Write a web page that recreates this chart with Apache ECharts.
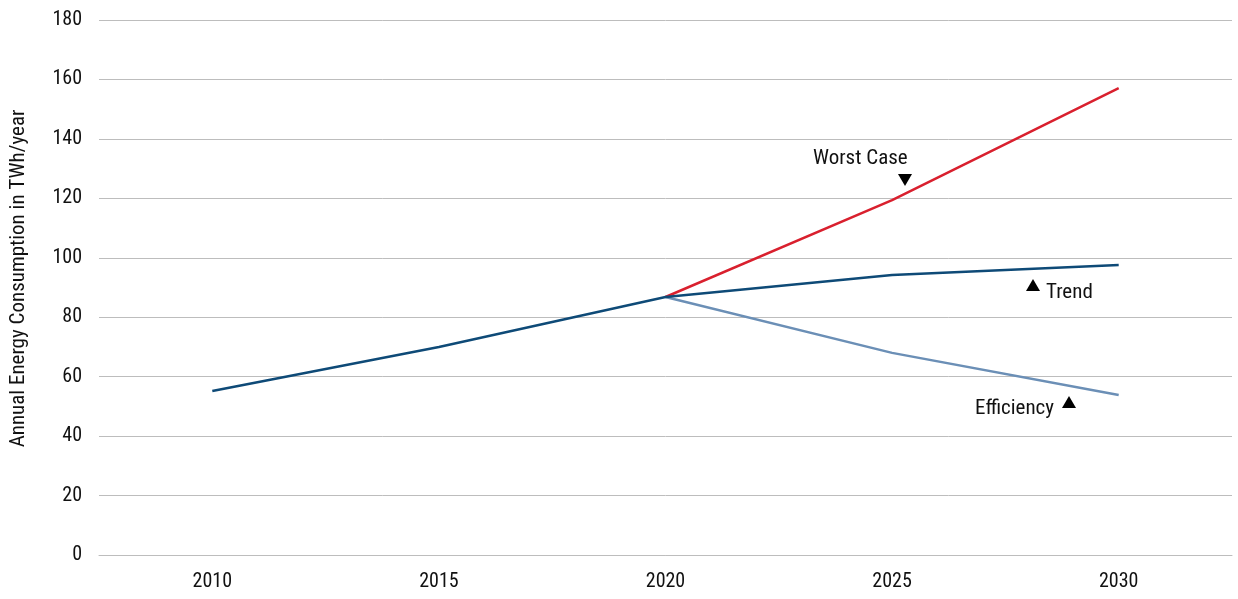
<!DOCTYPE html>
<html>
<head>
<meta charset="utf-8">
<script src="https://cdn.jsdelivr.net/npm/echarts@6/dist/echarts.min.js"></script>
<style>html,body{margin:0;padding:0;background:#fff}#c{width:1238px;height:599px}</style>
</head>
<body>
<div id="c"></div>
<script>
var years = ['2010', '2015', '2020', '2025', '2030'];
var trend = [55.2, 70, 86.8, 94.2, 97.6];
var worstCase = [null, null, 86.8, 119.4, 157.1];
var efficiency = [null, null, 86.8, 68, 53.8];
var yTicks = [0, 20, 40, 60, 80, 100, 120, 140, 160, 180];

var FONT = '"Roboto Condensed", "Liberation Sans Narrow", "DejaVu Sans Condensed", "Roboto", sans-serif';
var chart = echarts.init(document.getElementById('c'));
chart.setOption({
  animation: false,
  grid: { left: 92, right: 6, top: 20, bottom: 44 },
  xAxis: {
    type: 'category',
    data: years,
    boundaryGap: true,
    axisLine: { show: true, lineStyle: { color: '#bdbdbd', width: 1 } },
    axisTick: { show: false },
    axisLabel: { color: '#111', fontFamily: FONT, fontSize: 20, margin: 17 }
  },
  yAxis: {
    type: 'value',
    min: yTicks[0],
    max: yTicks[yTicks.length - 1],
    interval: 20,
    name: 'Annual Energy Consumption in TWh/year',
    nameLocation: 'middle',
    nameGap: 70,
    nameTextStyle: { color: '#111', fontFamily: FONT, fontSize: 21, padding: [0, 0, 0, 18] },
    axisLine: { show: false },
    axisTick: { show: false },
    splitLine: { lineStyle: { color: '#bdbdbd', width: 1 } },
    axisLabel: { color: '#111', fontFamily: FONT, fontSize: 20, margin: 17 }
  },
  series: [
    { name: 'Worst Case', type: 'line', data: worstCase, symbol: 'none', lineStyle: { color: '#d9202e', width: 2.5 } },
    { name: 'Efficiency', type: 'line', data: efficiency, symbol: 'none', lineStyle: { color: '#6b8fb6', width: 2.5 } },
    { name: 'Trend', type: 'line', data: trend, symbol: 'none', lineStyle: { color: '#0e4a77', width: 2.5 } }
  ],
  graphic: [
    { type: 'text', left: 813, top: 148, style: { text: 'Worst Case', font: '21px ' + FONT, fill: '#111' } },
    { type: 'polygon', shape: { points: [[898, 174], [912, 174], [905, 186]] }, style: { fill: '#000' } },
    { type: 'polygon', shape: { points: [[1026, 291], [1040, 291], [1033, 279]] }, style: { fill: '#000' } },
    { type: 'text', left: 1046, top: 282, style: { text: 'Trend', font: '21px ' + FONT, fill: '#111' } },
    { type: 'text', left: 975, top: 398, style: { text: 'Efficiency', font: '21px ' + FONT, fill: '#111' } },
    { type: 'polygon', shape: { points: [[1062, 408], [1076, 408], [1069, 396]] }, style: { fill: '#000' } }
  ]
});
</script>
</body>
</html>
